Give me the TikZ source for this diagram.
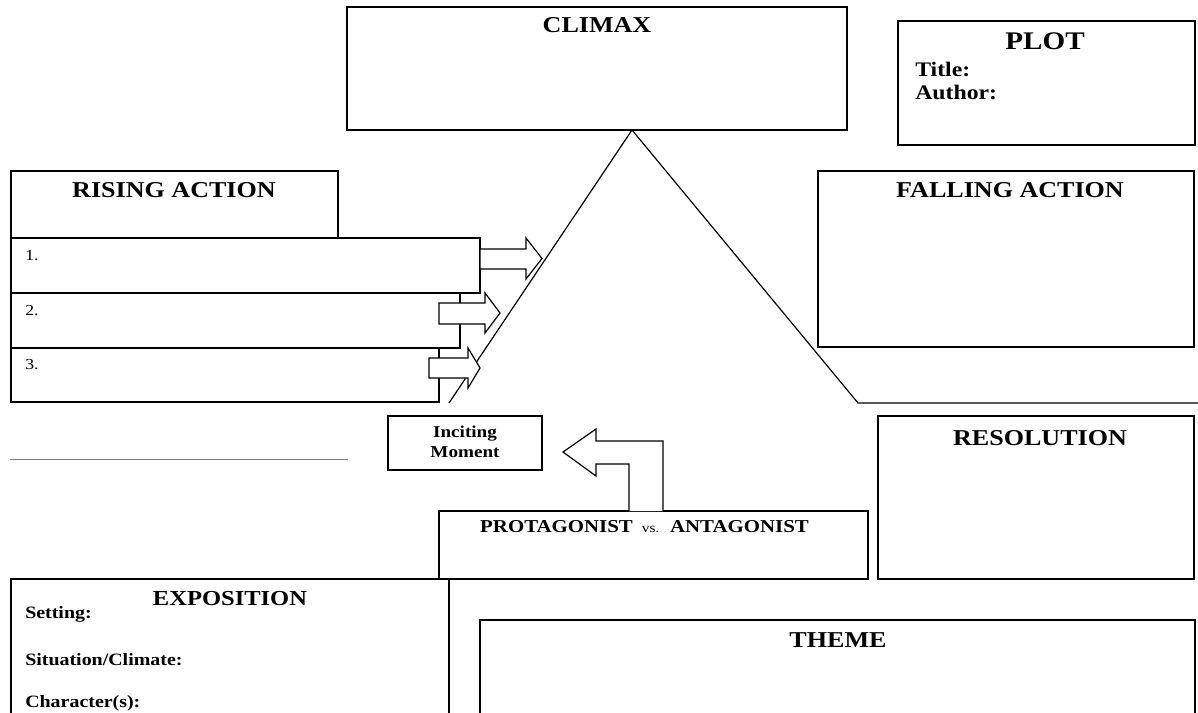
\documentclass[tikz,border=0pt]{standalone}
\usepackage{fontspec}
\setmainfont{Liberation Serif}[FakeStretch=1.15]
\usetikzlibrary{fit}
\begin{document}
\begin{tikzpicture}[x=0.75pt,y=-0.75pt,
  box/.style={draw, line width=0.9pt, inner sep=0pt, fill=white},
  blockarrow/.style={draw, line width=0.9pt, fill=white, line join=miter},
  head/.style={font=\bfseries\fontsize{17}{20}\selectfont, inner sep=0pt, anchor=base},
  field/.style={font=\bfseries\fontsize{13}{15}\selectfont, inner sep=0pt, anchor=base west},
  num/.style={font=\fontsize{11.5}{13}\selectfont, inner sep=0pt, anchor=base west}]
\useasboundingbox (0,0) rectangle (1198,713);
\fill[white] (0,0) rectangle (1198,713);

% ---- box corners ----
\coordinate (climaxA) at (347,7);     \coordinate (climaxB) at (847,130);
\coordinate (plotA) at (898,21);      \coordinate (plotB) at (1195,145);
\coordinate (risingA) at (11,171);    \coordinate (risingB) at (338,238);
\coordinate (oneA) at (11,238);       \coordinate (oneB) at (480,293);
\coordinate (twoA) at (11,293);       \coordinate (twoB) at (460,348);
\coordinate (threeA) at (11,348);     \coordinate (threeB) at (439,402);
\coordinate (fallA) at (818,171);     \coordinate (fallB) at (1194,347);
\coordinate (incA) at (388,416);      \coordinate (incB) at (542,470);
\coordinate (resA) at (878,416);      \coordinate (resB) at (1194,579);
\coordinate (protA) at (439,511);     \coordinate (protB) at (868,579);
\coordinate (expoA) at (11,579);      \coordinate (expoB) at (449,730);
\coordinate (themeA) at (480,620);    \coordinate (themeB) at (1195,730);

% ---- boxes ----
\node[box, fit=(climaxA)(climaxB)] (climax) {};
\node[box, fit=(plotA)(plotB)] (plot) {};
\node[box, fit=(risingA)(risingB)] (rising) {};
\node[box, fit=(oneA)(oneB)] (one) {};
\node[box, fit=(twoA)(twoB)] (two) {};
\node[box, fit=(threeA)(threeB)] (three) {};
\node[box, fit=(fallA)(fallB)] (falling) {};
\node[box, fit=(incA)(incB)] (inciting) {};
\node[box, fit=(resA)(resB)] (resolution) {};
\node[box, fit=(expoA)(expoB)] (exposition) {};
\node[box, fit=(protA)(protB)] (conflict) {};
\node[box, fit=(themeA)(themeB)] (theme) {};

% ---- plot triangle ----
\coordinate (apex) at (632,130);
\coordinate (leftfoot) at (449,403);
\coordinate (rightfoot) at (858,403);
\coordinate (rightend) at (1198,403);
\draw[line width=0.9pt] (leftfoot) -- (apex) -- (rightfoot) -- (rightend);

% ---- blank line ----
\coordinate (blankA) at (10,459); \coordinate (blankB) at (348,459);
\draw[gray, line width=0.7pt] (blankA) -- (blankB);

% ---- block arrows ----
\draw[blockarrow] (480,249) -- (526,249) -- (526,238) -- (542,258.5) -- (526,279) -- (526,269) -- (480,269) -- cycle;
\draw[blockarrow] (439,303) -- (485,303) -- (485,293) -- (500,313) -- (485,333) -- (485,324) -- (439,324) -- cycle;
\draw[blockarrow] (429,358) -- (468,358) -- (468,348) -- (480,368) -- (468,388) -- (468,378) -- (429,378) -- cycle;
\draw[blockarrow] (629,511) -- (629,464) -- (596,464) -- (596,476) -- (563,452) -- (596,429) -- (596,441) -- (663,441) -- (663,511);

% ---- texts ----
\node[head] (tclimax) at (597,33) {CLIMAX};
\node[head, font=\bfseries\fontsize{19}{22}\selectfont] (tplot) at (1045,50) {PLOT};
\node[field, font=\bfseries\fontsize{15.5}{18}\selectfont] (ttitle) at (915,77) {Title:};
\node[field, font=\bfseries\fontsize{15.5}{18}\selectfont] (tauthor) at (915,100) {Author:};
\node[head] (trising) at (174,197) {RISING ACTION};
\node[head] (tfalling) at (1010,197) {FALLING ACTION};
\node[num] (tone) at (25,260) {1.};
\node[num] (ttwo) at (25,315) {2.};
\node[num] (tthree) at (25,369) {3.};
\node[head, font=\bfseries\fontsize{12.5}{15}\selectfont] (tinc1) at (465,437) {Inciting};
\node[head, font=\bfseries\fontsize{12.5}{15}\selectfont] (tinc2) at (465,457) {Moment};
\node[head] (tres) at (1040,445) {RESOLUTION};
\node[head, font=\bfseries\fontsize{13.6}{16}\selectfont] (tconf) at (644.5,532) {PROTAGONIST {\mdseries\fontsize{10}{12}\selectfont\ vs.\ } ANTAGONIST};
\node[head, font=\bfseries\fontsize{16}{19}\selectfont] (texpo) at (230,605) {EXPOSITION};
\node[field] (tsetting) at (25,618) {Setting:};
\node[field] (tsituation) at (25,665) {Situation/Climate:};
\node[field] (tchar) at (25,707) {Character(s):};
\node[head] (ttheme) at (838,647) {THEME};
\end{tikzpicture}
\end{document}
